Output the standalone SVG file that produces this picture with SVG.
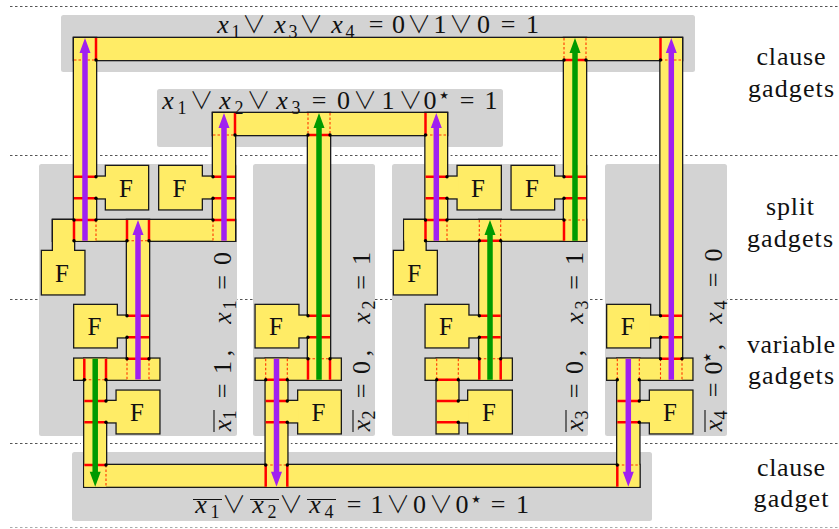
<svg xmlns="http://www.w3.org/2000/svg" width="839" height="529" viewBox="0 0 839 529">
<style>
.sep{stroke:#555;stroke-width:1;stroke-dasharray:2.5 2.5;fill:none}
.sep2{stroke:#aaa;stroke-width:1;stroke-dasharray:2.5 2.5;fill:none}
.box{fill:#d3d3d3}
.halo{fill:#fff;stroke:#fff;stroke-width:7}
.out{fill:#000;stroke:#1a1a1a;stroke-width:2.6}
.fill{fill:#ffec66;stroke:none}
.r{stroke:#f00;stroke-width:2.5;fill:none}
.d{stroke:#ff3300;stroke-width:1.1;stroke-dasharray:2.5 2;fill:none}
.dot circle{fill:#000}
.pu{stroke:#a020f0;stroke-width:5.5;fill:none}
.gr{stroke:#009a00;stroke-width:5.5;fill:none}
.puh{fill:#a020f0}
.grh{fill:#009a00}
.F{font-family:"Liberation Serif",serif;font-size:25px;text-anchor:middle;fill:#111}
.m{font-family:"Liberation Serif","DejaVu Serif",serif;font-size:26px;fill:#111;text-anchor:middle}
.i{font-style:italic}
.s{font-size:18px}
.v{font-family:"Noto Sans CJK JP","DejaVu Sans",sans-serif;font-weight:300;font-size:24px}
.st{font-size:21px;font-family:"DejaVu Sans",sans-serif}
.ov{stroke:#111;stroke-width:1.1}
.lab{font-family:"Liberation Serif",serif;font-size:26px;text-anchor:middle;fill:#111}
</style>
<defs>
<g id="wires">
<!-- top clause -->
<rect x="74" y="38" width="608" height="22"/>
<rect x="74" y="38" width="22" height="202.7"/>
<rect x="564" y="38" width="22" height="202.7"/>
<rect x="660.5" y="38" width="21.5" height="341.7"/>
<!-- middle clause -->
<rect x="213" y="113" width="234" height="22"/>
<rect x="213" y="113" width="22" height="127.7"/>
<rect x="308" y="113" width="22" height="266.7"/>
<rect x="425.5" y="113" width="21.5" height="127.7"/>
<!-- split 1 -->
<rect x="53" y="220" width="182" height="20.7"/>
<rect x="127" y="220" width="22" height="159.7"/>
<rect x="106" y="166" width="42" height="43.3"/><rect x="95" y="176.7" width="12" height="21.6"/>
<rect x="159.3" y="166" width="42.4" height="43.3"/><rect x="201" y="176.7" width="13" height="21.6"/>
<rect x="53" y="220" width="21" height="32"/><rect x="42" y="251" width="42.3" height="43.3"/>
<!-- split 3 -->
<rect x="404.3" y="220" width="181.7" height="20.7"/>
<rect x="479.3" y="220" width="21.4" height="159.7"/>
<rect x="457.7" y="166" width="43" height="43.3"/><rect x="446" y="176.7" width="12.7" height="21.6"/>
<rect x="511.7" y="166" width="42.3" height="43.3"/><rect x="553" y="176.7" width="12" height="21.6"/>
<rect x="404.3" y="220" width="21.2" height="32"/><rect x="394" y="251" width="42.7" height="43.3"/>
<!-- var 1 -->
<rect x="74.3" y="358.7" width="85" height="21"/>
<rect x="74.3" y="305" width="42.4" height="42.3"/><rect x="116" y="315.7" width="12" height="21.6"/>
<rect x="84.3" y="358.7" width="21.7" height="128"/>
<rect x="105" y="401" width="12.7" height="21.3"/><rect x="116.7" y="390.7" width="42.6" height="42.6"/>
<!-- var 2 -->
<rect x="255.7" y="358.7" width="85" height="21"/>
<rect x="255.7" y="305" width="42.6" height="42.3"/><rect x="297.5" y="315.7" width="11.5" height="21.6"/>
<rect x="265.7" y="358.7" width="21.6" height="128"/>
<rect x="286.5" y="401" width="12.5" height="21.3"/><rect x="298.3" y="390.7" width="42.4" height="42.6"/>
<!-- var 3 -->
<rect x="425.7" y="358.7" width="86" height="21"/>
<rect x="425.7" y="305" width="42.6" height="42.3"/><rect x="467.5" y="315.7" width="12.5" height="21.6"/>
<rect x="436.7" y="358.7" width="21.6" height="74.6"/>
<rect x="457.5" y="401" width="11.5" height="21.3"/><rect x="468.3" y="390.7" width="43.4" height="42.6"/>
<!-- var 4 -->
<rect x="607.3" y="358.7" width="85" height="21"/>
<rect x="607.3" y="305" width="42.7" height="42.3"/><rect x="649.3" y="315.7" width="12" height="21.6"/>
<rect x="617.3" y="358.7" width="22" height="128"/>
<rect x="638.5" y="401" width="12.2" height="21.3"/><rect x="650" y="390.7" width="42.3" height="42.6"/>
<!-- bottom clause -->
<rect x="84.3" y="465" width="555" height="21.7"/>
</g>
</defs>

<g id="separators">
<path class="sep" d="M10 6.5H839M10 155.5H839M10 299.5H839M10 443.5H839"/>
<path class="sep2" d="M10 527.5H839"/>
</g>

<use href="#wires" class="halo"/>

<g id="gadget-boxes">
<rect class="box" x="61" y="15" width="634" height="57" rx="2.5"/>
<rect class="box" x="157" y="89" width="346" height="58" rx="2.5"/>
<rect class="box" x="39" y="164" width="198" height="272" rx="2.5"/>
<rect class="box" x="253" y="164" width="122" height="272" rx="2.5"/>
<rect class="box" x="392" y="164" width="196" height="272" rx="2.5"/>
<rect class="box" x="605" y="164" width="122" height="272" rx="2.5"/>
<rect class="box" x="72" y="452" width="580" height="69" rx="2.5"/>
</g>

<g id="channels">
<use href="#wires" class="out"/>
<use href="#wires" class="fill"/>
</g>

<g id="clause-top">
<path class="d" d="M74 60H96M564 38V60M586 38V60M660.5 60H682"/>
<path class="r" d="M96 38V60M564 60H586M660.5 38V60"/>
</g>
<g id="clause-mid">
<path class="d" d="M213 135H235M308 113V135M330 113V135M425.5 135H447"/>
<path class="r" d="M235 113V135M308 135H330M425.5 113V135"/>
</g>
<g id="split-x1">
<path class="d" d="M96 220V240.7M127 240.7H149M213 220V240.7"/>
<path class="r" d="M74 176.7H96M74 198.3H96M74 220H96M74 220V240.7M127 220V240.7M149 220V240.7M213 176.7H235M213 198.3H235M213 220H235"/>
</g>
<g id="split-x3">
<path class="d" d="M447 220V240.7M479.3 220V240.7M500.7 220V240.7M564 220H586"/>
<path class="r" d="M425.5 176.7H447M425.5 198.3H447M425.5 220H447M425.5 220V240.7M479.3 240.7H500.7M564 176.7H586M564 198.3H586M564 220V240.7"/>
</g>
<g id="var-x1">
<path class="d" d="M127 358.7V379.7M149 358.7V379.7M84.3 379.7H106"/>
<path class="r" d="M127 315.7H149M127 337.3H149M127 358.7H149M84.3 358.7V379.7M106 358.7V379.7M84.3 401H106M84.3 422.3H106"/>
</g>
<g id="var-x2">
<path class="d" d="M308 358.7H330M265.7 358.7V379.7M287.3 358.7V379.7"/>
<path class="r" d="M308 315.7H330M308 337.3H330M308 358.7V379.7M330 358.7V379.7M265.7 379.7H287.3M265.7 401H287.3M265.7 422.3H287.3"/>
</g>
<g id="var-x3">
<path class="d" d="M479.3 358.7H500.7M436.7 358.7V379.7M458.3 358.7V379.7"/>
<path class="r" d="M479.3 315.7H500.7M479.3 337.3H500.7M479.3 358.7V379.7M500.7 358.7V379.7M436.7 379.7H458.3M436.7 401H458.3M436.7 422.3H458.3"/>
</g>
<g id="var-x4">
<path class="d" d="M660.5 358.7V379.7M682 358.7V379.7M617.3 358.7V379.7M639.3 358.7V379.7"/>
<path class="r" d="M660.5 315.7H682M660.5 337.3H682M660.5 358.7H682M617.3 401H639.3M617.3 422.3H639.3"/>
</g>
<g id="clause-bottom">
<path class="d" d="M106 465V486.7M265.7 465H287.3M617.3 465H639.3"/>
<path class="r" d="M84.3 465H106M265.7 465V486.7M287.3 465V486.7M617.3 465V486.7"/>
</g>

<g id="arrows">
<path class="pu" d="M85 240.7V50M224 240.7V125M138 379.5V232M276.5 358.7V475M436.3 240.7V125M671.3 379.7V50M628.3 358.7V475"/>
<path class="gr" d="M95.2 358.7V475M319 379.7V125M575 240.7V50M490 379.7V232"/>
<path class="puh" d="M85 38l-5.5 15h11zM224 113l-5.5 15h11zM138 220l-5.5 15h11zM436.3 113l-5.5 15h11zM671.3 38l-5.5 15h11zM276.5 486.7l-5.5 -15h11zM628.3 486.7l-5.5 -15h11z"/>
<path class="grh" d="M319 113l-5.5 15h11zM575 38l-5.5 15h11zM490 220l-5.5 15h11zM95.2 486.7l-5.5 -15h11z"/>
</g>

<g id="junction-dots" class="dot">
<circle cx="96" cy="60" r="1.7"/><circle cx="564" cy="60" r="1.7"/><circle cx="586" cy="60" r="1.7"/><circle cx="660.5" cy="60" r="1.7"/>
<circle cx="235" cy="135" r="1.7"/><circle cx="308" cy="135" r="1.7"/><circle cx="330" cy="135" r="1.7"/><circle cx="425.5" cy="135" r="1.7"/>
<circle cx="96" cy="176.7" r="1.7"/><circle cx="96" cy="198.3" r="1.7"/><circle cx="74" cy="220" r="1.7"/><circle cx="96" cy="220" r="1.7"/><circle cx="74" cy="240.7" r="1.7"/><circle cx="127" cy="240.7" r="1.7"/><circle cx="149" cy="240.7" r="1.7"/><circle cx="213" cy="176.7" r="1.7"/><circle cx="213" cy="198.3" r="1.7"/><circle cx="213" cy="220" r="1.7"/>
<circle cx="447" cy="176.7" r="1.7"/><circle cx="447" cy="198.3" r="1.7"/><circle cx="425.5" cy="220" r="1.7"/><circle cx="447" cy="220" r="1.7"/><circle cx="425.5" cy="240.7" r="1.7"/><circle cx="479.3" cy="240.7" r="1.7"/><circle cx="500.7" cy="240.7" r="1.7"/><circle cx="564" cy="176.7" r="1.7"/><circle cx="564" cy="198.3" r="1.7"/><circle cx="564" cy="220" r="1.7"/>
<circle cx="127" cy="315.7" r="1.7"/><circle cx="127" cy="337.3" r="1.7"/><circle cx="127" cy="358.7" r="1.7"/><circle cx="149" cy="358.7" r="1.7"/><circle cx="84.3" cy="379.7" r="1.7"/><circle cx="106" cy="379.7" r="1.7"/><circle cx="106" cy="401" r="1.7"/><circle cx="106" cy="422.3" r="1.7"/>
<circle cx="308" cy="315.7" r="1.7"/><circle cx="308" cy="337.3" r="1.7"/><circle cx="308" cy="358.7" r="1.7"/><circle cx="330" cy="358.7" r="1.7"/><circle cx="265.7" cy="379.7" r="1.7"/><circle cx="287.3" cy="379.7" r="1.7"/><circle cx="287.3" cy="401" r="1.7"/><circle cx="287.3" cy="422.3" r="1.7"/>
<circle cx="479.3" cy="315.7" r="1.7"/><circle cx="479.3" cy="337.3" r="1.7"/><circle cx="479.3" cy="358.7" r="1.7"/><circle cx="500.7" cy="358.7" r="1.7"/><circle cx="436.7" cy="379.7" r="1.7"/><circle cx="458.3" cy="379.7" r="1.7"/><circle cx="458.3" cy="401" r="1.7"/><circle cx="458.3" cy="422.3" r="1.7"/>
<circle cx="660.5" cy="315.7" r="1.7"/><circle cx="660.5" cy="337.3" r="1.7"/><circle cx="660.5" cy="358.7" r="1.7"/><circle cx="682" cy="358.7" r="1.7"/><circle cx="617.3" cy="379.7" r="1.7"/><circle cx="639.3" cy="379.7" r="1.7"/><circle cx="639.3" cy="401" r="1.7"/><circle cx="639.3" cy="422.3" r="1.7"/>
<circle cx="106" cy="465" r="1.7"/><circle cx="265.7" cy="465" r="1.7"/><circle cx="287.3" cy="465" r="1.7"/><circle cx="617.3" cy="465" r="1.7"/>
</g>

<g id="F-labels" class="F">
<text x="126" y="197">F</text><text x="179.5" y="197">F</text><text x="62" y="282">F</text>
<text x="478" y="197">F</text><text x="532" y="197">F</text><text x="414.3" y="282">F</text>
<text x="94.5" y="335">F</text><text x="137" y="421">F</text>
<text x="276" y="335">F</text><text x="318.5" y="421">F</text>
<text x="446" y="335">F</text><text x="489" y="421">F</text>
<text x="627.6" y="335">F</text><text x="670" y="421">F</text>
</g>

<g id="clause-labels" class="m">
<text y="33"><tspan class="i" x="223">x</tspan><tspan class="s" x="236" y="38">1</tspan><tspan class="v" x="254" y="33">∨</tspan><tspan class="i" x="280">x</tspan><tspan class="s" x="293" y="38">3</tspan><tspan class="v" x="311" y="33">∨</tspan><tspan class="i" x="337">x</tspan><tspan class="s" x="350" y="38">4</tspan><tspan x="376" y="33">=</tspan><tspan x="398.5">0</tspan><tspan class="v" x="419">∨</tspan><tspan x="440">1</tspan><tspan class="v" x="461">∨</tspan><tspan x="483.5">0</tspan><tspan x="508">=</tspan><tspan x="532.5">1</tspan></text>
<text y="109"><tspan class="i" x="168">x</tspan><tspan class="s" x="182" y="114">1</tspan><tspan class="v" x="201.5" y="109">∨</tspan><tspan class="i" x="225">x</tspan><tspan class="s" x="239" y="114">2</tspan><tspan class="v" x="258.5" y="109">∨</tspan><tspan class="i" x="282">x</tspan><tspan class="s" x="296" y="114">3</tspan><tspan x="319" y="109">=</tspan><tspan x="343.5">0</tspan><tspan class="v" x="365">∨</tspan><tspan x="388">1</tspan><tspan class="v" x="410.5">∨</tspan><tspan x="430">0</tspan><tspan class="st" x="444" y="102">⋆</tspan><tspan x="467" y="109">=</tspan><tspan x="491">1</tspan></text>
<text y="513"><tspan class="i" x="201">x</tspan><tspan class="s" x="215" y="518">1</tspan><tspan class="v" x="234" y="513">∨</tspan><tspan class="i" x="258">x</tspan><tspan class="s" x="272" y="518">2</tspan><tspan class="v" x="291" y="513">∨</tspan><tspan class="i" x="315">x</tspan><tspan class="s" x="329" y="518">4</tspan><tspan x="354" y="513">=</tspan><tspan x="377">1</tspan><tspan class="v" x="398">∨</tspan><tspan x="419.5">0</tspan><tspan class="v" x="441">∨</tspan><tspan x="462">0</tspan><tspan class="st" x="476" y="506">⋆</tspan><tspan x="498" y="513">=</tspan><tspan x="522.5">1</tspan></text>
<path class="ov" d="M193 499.5H222M250 499.5H279M307 499.5H336"/>
</g>

<g id="value-labels" class="m">
<g transform="translate(231,432) rotate(-90)"><text y="0"><tspan class="i" x="6.5">x</tspan><tspan class="s" x="17" y="5">1</tspan><tspan x="41" y="0">=</tspan><tspan x="64.5">1</tspan><tspan x="79">,</tspan><tspan class="i" x="114">x</tspan><tspan class="s" x="127" y="5">1</tspan><tspan x="149.5" y="0">=</tspan><tspan x="173.5">0</tspan></text><path class="ov" d="M0 -17H22"/></g>
<g transform="translate(370,432) rotate(-90)"><text y="0"><tspan class="i" x="6.5">x</tspan><tspan class="s" x="17" y="5">2</tspan><tspan x="41" y="0">=</tspan><tspan x="64.5">0</tspan><tspan x="79">,</tspan><tspan class="i" x="114">x</tspan><tspan class="s" x="127" y="5">2</tspan><tspan x="149.5" y="0">=</tspan><tspan x="173.5">1</tspan></text><path class="ov" d="M0 -17H22"/></g>
<g transform="translate(583,432) rotate(-90)"><text y="0"><tspan class="i" x="6.5">x</tspan><tspan class="s" x="17" y="5">3</tspan><tspan x="41" y="0">=</tspan><tspan x="64.5">0</tspan><tspan x="79">,</tspan><tspan class="i" x="114">x</tspan><tspan class="s" x="127" y="5">3</tspan><tspan x="149.5" y="0">=</tspan><tspan x="173.5">1</tspan></text><path class="ov" d="M0 -17H22"/></g>
<g transform="translate(722,432) rotate(-90)"><text y="0"><tspan class="i" x="6.5">x</tspan><tspan class="s" x="17" y="5">4</tspan><tspan x="42" y="0">=</tspan><tspan x="64">0</tspan><tspan class="st" x="74.5" y="-8">⋆</tspan><tspan x="85" y="0">,</tspan><tspan class="i" x="114">x</tspan><tspan class="s" x="127" y="5">4</tspan><tspan x="152" y="0">=</tspan><tspan x="177">0</tspan></text><path class="ov" d="M0 -17H22"/></g>
</g>

<g id="row-labels" class="lab">
<text x="791" y="65" textLength="69">clause</text><text x="791" y="97" textLength="86">gadgets</text>
<text x="790" y="215" textLength="48">split</text><text x="790" y="247" textLength="86">gadgets</text>
<text x="791" y="353" textLength="88">variable</text><text x="791" y="384" textLength="86">gadgets</text>
<text x="791" y="476" textLength="68">clause</text><text x="791" y="507" textLength="75">gadget</text>
</g>
</svg>
